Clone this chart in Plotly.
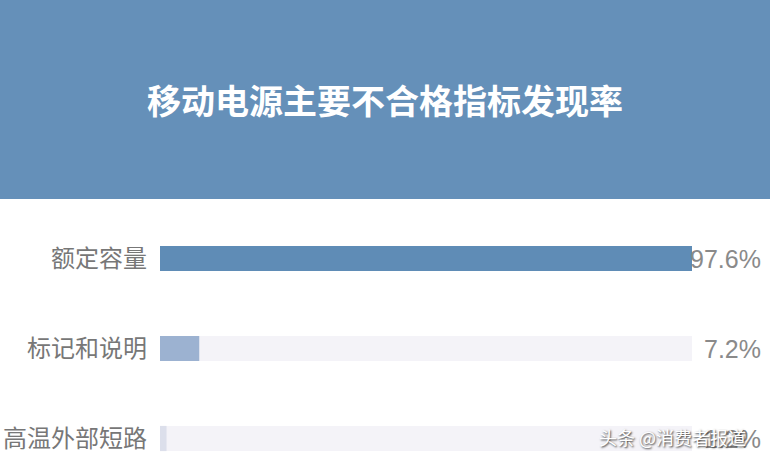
import plotly.graph_objects as go

## data
categories = ["额定容量", "标记和说明", "高温外部短路"]
rates = [97.6, 7.2, 1.2]
rate_labels = ["97.6%", "7.2%", "1.2%"]
bar_colors = ["#5f8cb6", "#9cb2d1", "#dcdfeb"]
title_text = "移动电源主要不合格指标发现率"
watermark = "头条 @消费者报道"

cjk = "Noto Sans CJK SC"
full = max(rates)  ## track length = biggest value

fig = go.Figure()
# light track behind each bar
fig.add_trace(go.Bar(y=categories, x=[full] * len(categories), orientation="h",
                     marker=dict(color="#f4f3f8", line=dict(width=0)),
                     width=0.28, hoverinfo="skip", showlegend=False))
fig.add_trace(go.Bar(y=categories, x=rates, orientation="h",
                     marker=dict(color=bar_colors, line=dict(width=0)),
                     width=0.28, showlegend=False))

# percentages, right aligned at the edge
for cat, lab in zip(categories, rate_labels):
    fig.add_annotation(x=1.1335, xref="paper", y=cat, yref="y", text=lab,
                       showarrow=False, xanchor="right", yanchor="middle",
                       font=dict(family="Liberation Sans, Arial", size=25, color="#8a8a8a"))

# blue header band
fig.add_shape(type="rect", xref="paper", yref="paper", x0=-1, x1=2, y0=1.056, y1=3,
              fillcolor="#6590b9", line=dict(width=0), layer="below")

# watermark in the bottom right corner, on top of the last value
fig.add_annotation(x=(597 - 160) / 532, xref="paper", y=(461 - 437) / 248, yref="paper",
                   text=watermark, showarrow=False, xanchor="left", yanchor="middle",
                   font=dict(family=cjk, size=18, color="white", shadow="1px 1px 2px #333"))

fig.update_layout(
    width=770, height=461,
    margin=dict(l=160, r=78, t=213, b=0),
    paper_bgcolor="white", plot_bgcolor="white",
    barmode="overlay",
    title=dict(text=title_text, x=0.5, xref="container", xanchor="center",
               y=1 - 102 / 461, yanchor="middle",
               font=dict(family=cjk, size=34, color="white", weight="bold")),
    xaxis=dict(range=[0, full], visible=False, fixedrange=True),
    yaxis=dict(range=[2.25, -0.5056], showgrid=False, zeroline=False, showline=False,
               ticks="", ticklabelstandoff=12,
               tickfont=dict(family=cjk, size=24, color="#777777")),
)

# page has a default 8px body margin, drop it so the chart fills the window
fig.write_html("out.html", config={"displayModeBar": False},
               post_script="document.body.style.margin='0';")
